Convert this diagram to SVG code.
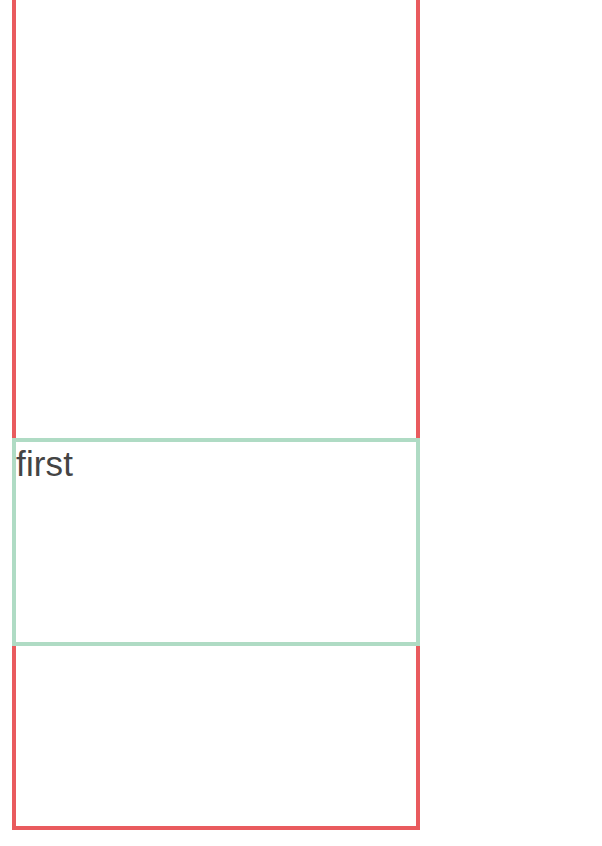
<svg xmlns="http://www.w3.org/2000/svg" width="602" height="846" viewBox="0 0 602 846">
<style>
.outer{fill:none;stroke:#e95b5e;stroke-width:4}
.inner{fill:#ffffff;stroke:#afdbc4;stroke-width:4}
.lbl{font-family:"Liberation Sans",Arial,sans-serif;font-size:35px;fill:#444444}
</style>
<rect width="602" height="846" fill="#ffffff"/>
<g id="outer">
<rect class="outer" x="14" y="-20" width="404" height="848"/>
</g>
<g id="first">
<rect class="inner" x="14" y="440" width="404" height="204"/>
<text class="lbl" x="16" y="476" textLength="57" lengthAdjust="spacing">first</text>
</g>
<g id="connectors"></g>
</svg>
